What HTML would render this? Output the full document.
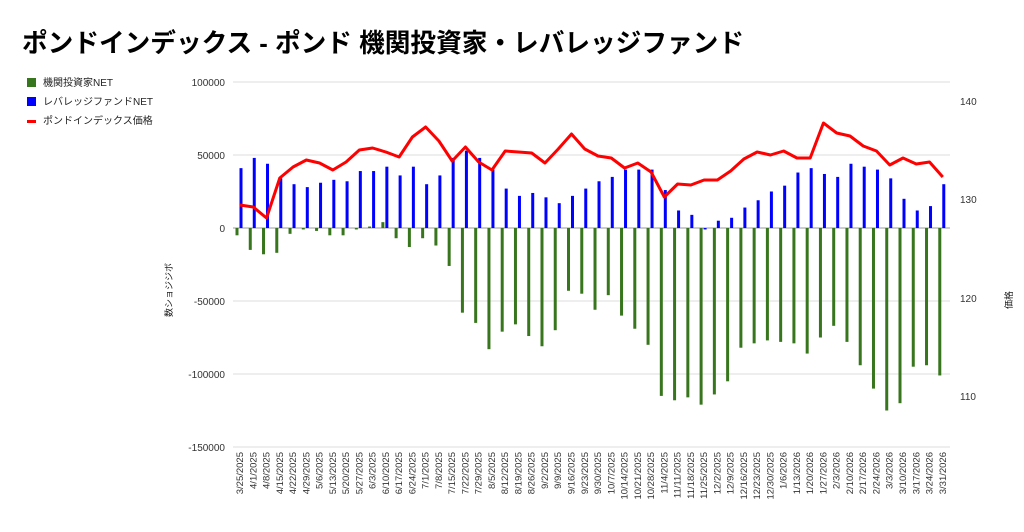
<!DOCTYPE html>
<html><head><meta charset="utf-8"><style>
body{margin:0;background:#fff;width:1024px;height:527px;overflow:hidden}
svg text{font-family:"Liberation Sans","Noto Sans CJK JP",sans-serif}
</style></head><body>
<svg id="c" width="1024" height="527" xmlns="http://www.w3.org/2000/svg"></svg>
<script>
const s=document.getElementById('c');let h='';
h+='<text x="22" y="52" font-size="26" font-weight="bold" fill="#000" textLength="722" lengthAdjust="spacingAndGlyphs">ポンドインデックス - ポンド 機関投資家・レバレッジファンド</text>';
h+='<rect x="27" y="78" width="9" height="9" fill="#38761d"/><text x="43" y="86" font-size="10" fill="#222">機関投資家NET</text>';
h+='<rect x="27" y="97" width="9" height="9" fill="#0000ff"/><text x="43" y="105" font-size="10" fill="#222">レバレッジファンドNET</text>';
h+='<rect x="27" y="120" width="9" height="3" fill="#ff0000"/><text x="43" y="124" font-size="10" fill="#222">ポンドインデックス価格</text>';
const y0=228,k=73/50000;
for(let v=100000;v>=-150000;v-=50000){const y=y0-v*k;
 h+=`<line x1="233" x2="950" y1="${y}" y2="${y}" stroke="${v==0?'#999':'#ddd'}" stroke-width="1"/>`;
 h+=`<text x="225" y="${y+4}" font-size="10" text-anchor="end" fill="#333">${v}</text>`;}
[[140,101],[130,199],[120,298],[110,396]].forEach(a=>h+=`<text x="960" y="${a[1]+4}" font-size="10" fill="#333">${a[0]}</text>`);
h+='<text transform="translate(172,290) rotate(-90)" font-size="9" text-anchor="middle" fill="#222">数ショジジボ</text>';
h+='<text transform="translate(1012,300) rotate(-90)" font-size="9" text-anchor="middle" fill="#222">価格</text>';
const blue=[41,48,44,34,30,28,31,33,32,39,39,42,36,42,30,36,48,53,48,40,27,22,24,21,17,22,27,32,35,40,40,40,26,12,9,-1,5,7,14,19,25,29,38,41,37,35,44,42,40,34,20,12,15,30];
const green=[-5,-15,-18,-17,-4,-1,-2,-5,-5,-1,1,4,-7,-13,-7,-12,-26,-58,-65,-83,-71,-66,-74,-81,-70,-43,-45,-56,-46,-60,-69,-80,-115,-118,-116,-121,-114,-105,-82,-79,-77,-78,-79,-86,-75,-67,-78,-94,-110,-125,-120,-95,-94,-101];
const red=[205,207,218,178,167,160,163,170,162,150,148,152,157,137,127,141,161,147,162,170,151,152,153,163,149,134,149,156,158,168,163,172,197,184,185,180,180,171,159,152,155,151,158,158,123,133,136,146,151,165,158,164,162,177];
const dates=["3/25/2025","4/1/2025","4/8/2025","4/15/2025","4/22/2025","4/29/2025","5/6/2025","5/13/2025","5/20/2025","5/27/2025","6/3/2025","6/10/2025","6/17/2025","6/24/2025","7/1/2025","7/8/2025","7/15/2025","7/22/2025","7/29/2025","8/5/2025","8/12/2025","8/19/2025","8/26/2025","9/2/2025","9/9/2025","9/16/2025","9/23/2025","9/30/2025","10/7/2025","10/14/2025","10/21/2025","10/28/2025","11/4/2025","11/11/2025","11/18/2025","11/25/2025","12/2/2025","12/9/2025","12/16/2025","12/23/2025","12/30/2025","1/6/2026","1/13/2026","1/20/2026","1/27/2026","2/3/2026","2/10/2026","2/17/2026","2/24/2026","3/3/2026","3/10/2026","3/17/2026","3/24/2026","3/31/2026"];
const X=i=>240+i*13.26;
for(let i=0;i<54;i++){const x=X(i);
 const gb=green[i]*1000*k, bb=blue[i]*1000*k;
 h+=`<rect x="${x-4.5}" y="${Math.min(y0,y0-gb)}" width="3" height="${Math.abs(gb)}" fill="#38761d"/>`;
 h+=`<rect x="${x-0.5}" y="${Math.min(y0,y0-bb)}" width="3" height="${Math.abs(bb)}" fill="#0000ff"/>`;
 h+=`<text transform="translate(${x+3},452) rotate(-90)" font-size="9.5" text-anchor="end" fill="#333">${dates[i]}</text>`;}
h+=`<polyline fill="none" stroke="#ff0000" stroke-width="3" stroke-linejoin="round" points="${red.map((y,i)=>X(i)+','+y).join(' ')}"/>`;
s.innerHTML=h;
</script>
</body></html>
